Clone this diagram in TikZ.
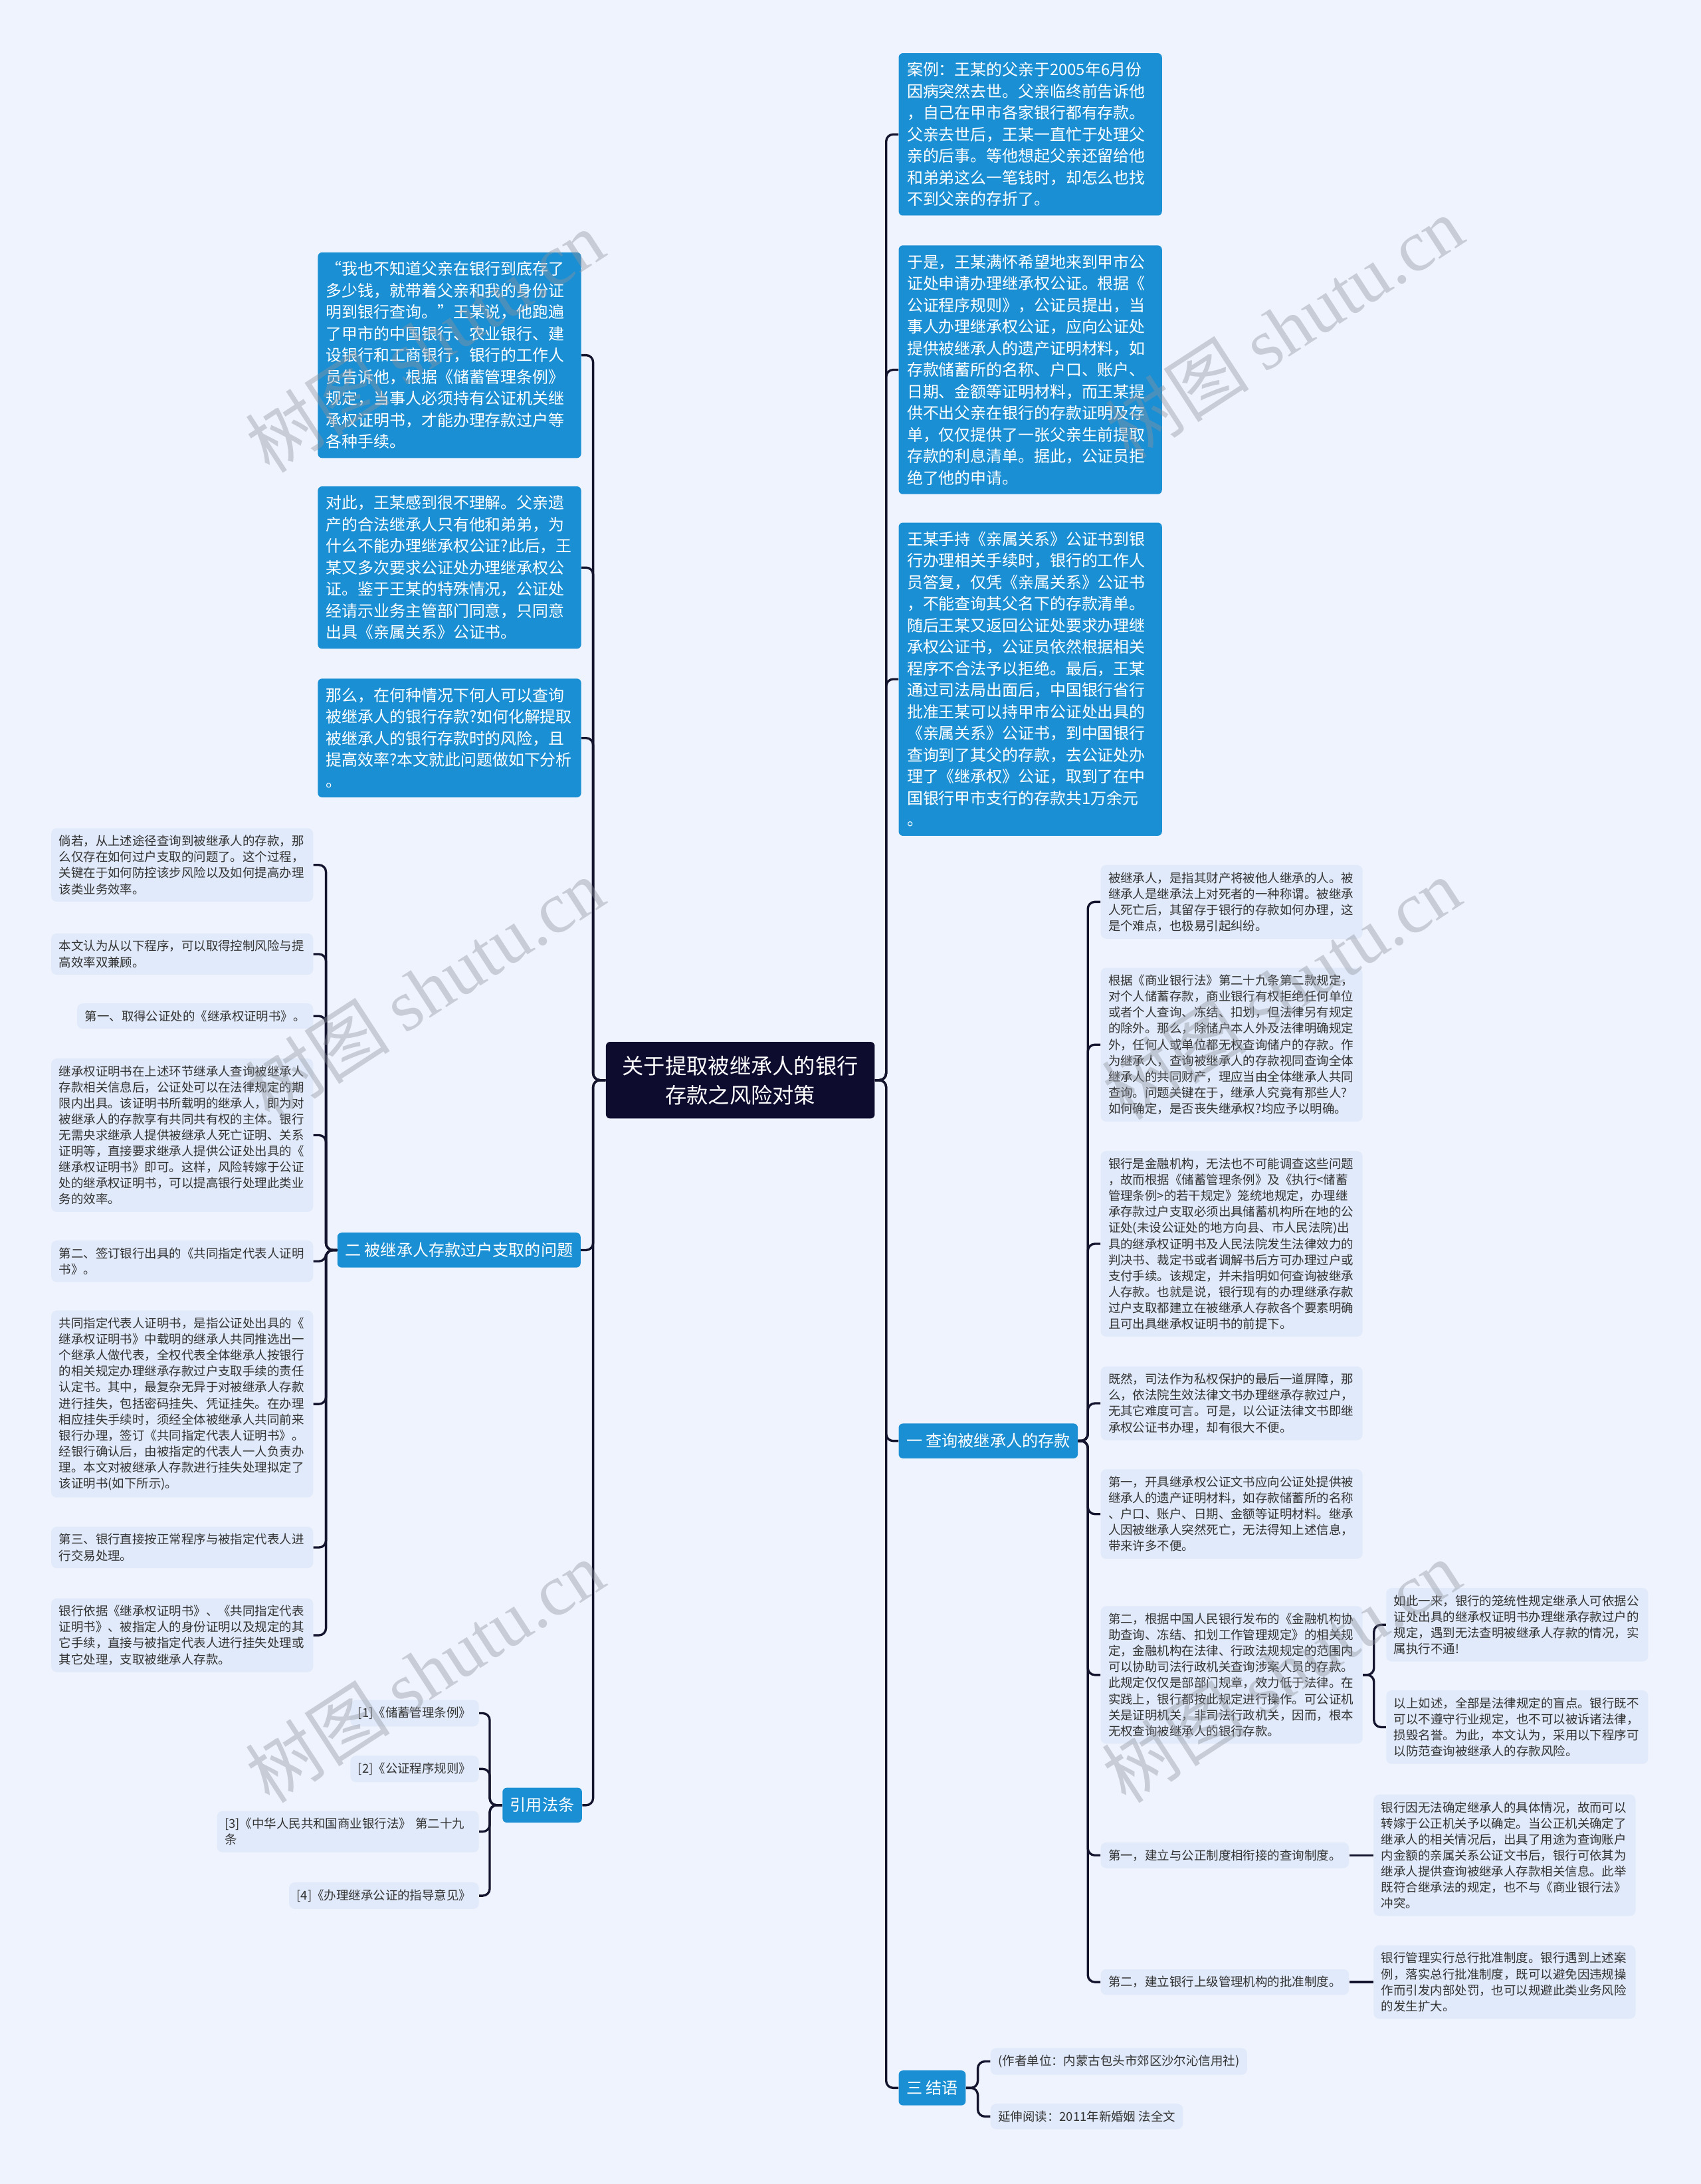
\documentclass[tikz,border=0pt]{standalone}
\usepackage{fontspec}
\setmainfont{Noto Sans CJK SC}
\newfontfamily\wmlatin{Liberation Serif}
\definecolor{bgc}{HTML}{EEF3FD}
\definecolor{bluec}{HTML}{1B8FD3}
\definecolor{darkc}{HTML}{0D0B2E}
\definecolor{lightc}{HTML}{E1EAFA}
\definecolor{textc}{HTML}{333333}
\definecolor{connc}{HTML}{14142E}
\definecolor{wmc}{HTML}{8E929C}
\begin{document}
\begin{tikzpicture}[x=1pt,y=-1pt,
  conn/.style={draw=connc,line width=1.6pt,rounded corners=5pt},
  bluebox/.style={fill=bluec,text=white,rounded corners=3pt,inner xsep=6pt,inner ysep=6.5pt,align=left,text width=177pt,font=\fontsize{11.4}{15.5}\selectfont},
  branch/.style={fill=bluec,text=white,rounded corners=3pt,inner xsep=5.5pt,inner ysep=0pt,minimum height=25pt,font=\fontsize{11.5}{14}\selectfont},
  lightbox/.style={fill=lightc,text=textc,rounded corners=4pt,inner xsep=5.5pt,inner ysep=5pt,align=left,font=\fontsize{8.8}{11.5}\selectfont},
  widebox/.style={text width=177pt},
  centerbox/.style={fill=darkc,text=white,rounded corners=3pt,align=center,minimum width=193pt,minimum height=55pt,font=\fontsize{15.4}{21}\selectfont},
  wm/.style={text=wmc,opacity=0.4,font=\fontsize{52}{52}\selectfont,rotate=33}
]
\useasboundingbox (0,0) rectangle (1221,1568);
\fill[bgc] (0,0) rectangle (1221,1568);

% center
\node[centerbox] (C) at (531.5,775.5) {关于提取被继承人的银行\\存款之风险对策};

% right blue boxes
\node[bluebox,anchor=north west] (R1) at (645,38) {案例：王某的父亲于2005年6月份\\因病突然去世。父亲临终前告诉他\\，自己在甲市各家银行都有存款。\\父亲去世后，王某一直忙于处理父\\亲的后事。等他想起父亲还留给他\\和弟弟这么一笔钱时，却怎么也找\\不到父亲的存折了。};
\node[bluebox,anchor=north west] (R2) at (645,176) {于是，王某满怀希望地来到甲市公\\证处申请办理继承权公证。根据《\\公证程序规则》，公证员提出，当\\事人办理继承权公证，应向公证处\\提供被继承人的遗产证明材料，如\\存款储蓄所的名称、户口、账户、\\日期、金额等证明材料，而王某提\\供不出父亲在银行的存款证明及存\\单，仅仅提供了一张父亲生前提取\\存款的利息清单。据此，公证员拒\\绝了他的申请。};
\node[bluebox,anchor=north west] (R3) at (645,375) {王某手持《亲属关系》公证书到银\\行办理相关手续时，银行的工作人\\员答复，仅凭《亲属关系》公证书\\，不能查询其父名下的存款清单。\\随后王某又返回公证处要求办理继\\承权公证书，公证员依然根据相关\\程序不合法予以拒绝。最后，王某\\通过司法局出面后，中国银行省行\\批准王某可以持甲市公证处出具的\\《亲属关系》公证书，到中国银行\\查询到了其父的存款，去公证处办\\理了《继承权》公证，取到了在中\\国银行甲市支行的存款共1万余元\\。};

% left blue boxes
\node[bluebox,anchor=north west] (L1) at (228,181) {“我也不知道父亲在银行到底存了\\多少钱，就带着父亲和我的身份证\\明到银行查询。”王某说，他跑遍\\了甲市的中国银行、农业银行、建\\设银行和工商银行，银行的工作人\\员告诉他，根据《储蓄管理条例》\\规定，当事人必须持有公证机关继\\承权证明书，才能办理存款过户等\\各种手续。};
\node[bluebox,anchor=north west] (L2) at (228,349) {对此，王某感到很不理解。父亲遗\\产的合法继承人只有他和弟弟，为\\什么不能办理继承权公证?此后，王\\某又多次要求公证处办理继承权公\\证。鉴于王某的特殊情况，公证处\\经请示业务主管部门同意，只同意\\出具《亲属关系》公证书。};
\node[bluebox,anchor=north west] (L3) at (228,487) {那么，在何种情况下何人可以查询\\被继承人的银行存款?如何化解提取\\被继承人的银行存款时的风险，且\\提高效率?本文就此问题做如下分析\\。};

% branch nodes
\node[branch,anchor=east] (B2) at (417,897.5) {二 被继承人存款过户支取的问题};
\node[branch,anchor=east] (B4) at (418,1296) {引用法条};
\node[branch,anchor=west] (B1) at (645,1034.5) {一 查询被继承人的存款};
\node[branch,anchor=west] (B3) at (645,1499) {三 结语};

% left light boxes (branch 二)
\node[lightbox,widebox,anchor=east] (l1) at (225,621) {倘若，从上述途径查询到被继承人的存款，那\\么仅存在如何过户支取的问题了。这个过程，\\关键在于如何防控该步风险以及如何提高办理\\该类业务效率。};
\node[lightbox,widebox,anchor=east] (l2) at (225,685) {本文认为从以下程序，可以取得控制风险与提\\高效率双兼顾。};
\node[lightbox,anchor=east] (l3) at (225,729.5) {第一、取得公证处的《继承权证明书》。};
\node[lightbox,widebox,anchor=east] (l4) at (225,815) {继承权证明书在上述环节继承人查询被继承人\\存款相关信息后，公证处可以在法律规定的期\\限内出具。该证明书所载明的继承人，即为对\\被继承人的存款享有共同共有权的主体。银行\\无需央求继承人提供被继承人死亡证明、关系\\证明等，直接要求继承人提供公证处出具的《\\继承权证明书》即可。这样，风险转嫁于公证\\处的继承权证明书，可以提高银行处理此类业\\务的效率。};
\node[lightbox,widebox,anchor=east] (l5) at (225,905.5) {第二、签订银行出具的《共同指定代表人证明\\书》。};
\node[lightbox,widebox,anchor=east] (l6) at (225,1008) {共同指定代表人证明书，是指公证处出具的《\\继承权证明书》中载明的继承人共同推选出一\\个继承人做代表，全权代表全体继承人按银行\\的相关规定办理继承存款过户支取手续的责任\\认定书。其中，最复杂无异于对被继承人存款\\进行挂失，包括密码挂失、凭证挂失。在办理\\相应挂失手续时，须经全体被继承人共同前来\\银行办理，签订《共同指定代表人证明书》。\\经银行确认后，由被指定的代表人一人负责办\\理。本文对被继承人存款进行挂失处理拟定了\\该证明书(如下所示)。};
\node[lightbox,widebox,anchor=east] (l7) at (225,1111) {第三、银行直接按正常程序与被指定代表人进\\行交易处理。};
\node[lightbox,widebox,anchor=east] (l8) at (225,1174) {银行依据《继承权证明书》、《共同指定代表\\证明书》、被指定人的身份证明以及规定的其\\它手续，直接与被指定代表人进行挂失处理或\\其它处理，支取被继承人存款。};

% references
\node[lightbox,anchor=east] (r1) at (344,1230) {[1]《储蓄管理条例》};
\node[lightbox,anchor=east] (r2) at (344,1270) {[2]《公证程序规则》};
\node[lightbox,widebox,anchor=east] (r3) at (344,1315) {[3]《中华人民共和国商业银行法》 第二十九\\条};
\node[lightbox,anchor=east] (r4) at (344,1361) {[4]《办理继承公证的指导意见》};

% right light boxes (branch 一)
\node[lightbox,widebox,anchor=west] (a) at (790,647.5) {被继承人，是指其财产将被他人继承的人。被\\继承人是继承法上对死者的一种称谓。被继承\\人死亡后，其留存于银行的存款如何办理，这\\是个难点，也极易引起纠纷。};
\node[lightbox,widebox,anchor=west] (b) at (790,750) {根据《商业银行法》第二十九条第二款规定，\\对个人储蓄存款，商业银行有权拒绝任何单位\\或者个人查询、冻结、扣划，但法律另有规定\\的除外。那么，除储户本人外及法律明确规定\\外，任何人或单位都无权查询储户的存款。作\\为继承人，查询被继承人的存款视同查询全体\\继承人的共同财产，理应当由全体继承人共同\\查询。问题关键在于，继承人究竟有那些人?\\如何确定，是否丧失继承权?均应予以明确。};
\node[lightbox,widebox,anchor=west] (c) at (790,893) {银行是金融机构，无法也不可能调查这些问题\\，故而根据《储蓄管理条例》及《执行<储蓄\\管理条例>的若干规定》笼统地规定，办理继\\承存款过户支取必须出具储蓄机构所在地的公\\证处(未设公证处的地方向县、市人民法院)出\\具的继承权证明书及人民法院发生法律效力的\\判决书、裁定书或者调解书后方可办理过户或\\支付手续。该规定，并未指明如何查询被继承\\人存款。也就是说，银行现有的办理继承存款\\过户支取都建立在被继承人存款各个要素明确\\且可出具继承权证明书的前提下。};
\node[lightbox,widebox,anchor=west] (d) at (790,1007.5) {既然，司法作为私权保护的最后一道屏障，那\\么，依法院生效法律文书办理继承存款过户，\\无其它难度可言。可是，以公证法律文书即继\\承权公证书办理，却有很大不便。};
\node[lightbox,widebox,anchor=west] (e) at (790,1087) {第一，开具继承权公证文书应向公证处提供被\\继承人的遗产证明材料，如存款储蓄所的名称\\、户口、账户、日期、金额等证明材料。继承\\人因被继承人突然死亡，无法得知上述信息，\\带来许多不便。};
\node[lightbox,widebox,anchor=west] (f) at (790,1202.5) {第二，根据中国人民银行发布的《金融机构协\\助查询、冻结、扣划工作管理规定》的相关规\\定，金融机构在法律、行政法规规定的范围内\\可以协助司法行政机关查询涉案人员的存款。\\此规定仅仅是部部门规章，效力低于法律。在\\实践上，银行都按此规定进行操作。可公证机\\关是证明机关，非司法行政机关，因而，根本\\无权查询被继承人的银行存款。};
\node[lightbox,anchor=west] (g) at (790,1332) {第一，建立与公正制度相衔接的查询制度。};
\node[lightbox,anchor=west] (h) at (790,1423) {第二，建立银行上级管理机构的批准制度。};

% third level
\node[lightbox,widebox,anchor=west] (f1) at (995,1166.5) {如此一来，银行的笼统性规定继承人可依据公\\证处出具的继承权证明书办理继承存款过户的\\规定，遇到无法查明被继承人存款的情况，实\\属执行不通!};
\node[lightbox,widebox,anchor=west] (f2) at (995,1240) {以上如述，全部是法律规定的盲点。银行既不\\可以不遵守行业规定，也不可以被诉诸法律，\\损毁名誉。为此，本文认为，采用以下程序可\\以防范查询被继承人的存款风险。};
\node[lightbox,widebox,anchor=west] (g1) at (986,1332) {银行因无法确定继承人的具体情况，故而可以\\转嫁于公正机关予以确定。当公正机关确定了\\继承人的相关情况后，出具了用途为查询账户\\内金额的亲属关系公证文书后，银行可依其为\\继承人提供查询被继承人存款相关信息。此举\\既符合继承法的规定，也不与《商业银行法》\\冲突。};
\node[lightbox,widebox,anchor=west] (h1) at (986,1423) {银行管理实行总行批准制度。银行遇到上述案\\例，落实总行批准制度，既可以避免因违规操\\作而引发内部处罚，也可以规避此类业务风险\\的发生扩大。};

% conclusion children
\node[lightbox,anchor=west] (k1) at (711,1480) {(作者单位：内蒙古包头市郊区沙尔沁信用社)};
\node[lightbox,anchor=west] (k2) at (711,1519.5) {延伸阅读：2011年新婚姻 法全文};

% connectors
\foreach \n in {L1,L2,L3,B2,B4} \draw[conn] (C.west) -- ++(-9,0) |- (\n.east);
\foreach \n in {R1,R2,R3,B1,B3} \draw[conn] (C.east) -- ++(8,0) |- (\n.west);
\foreach \n in {a,b,c,d,e,f,g,h} \draw[conn] (B1.east) -- ++(7,0) |- (\n.west);
\foreach \n in {f1,f2} \draw[conn] (f.east) -- ++(8,0) |- (\n.west);
\draw[conn] (g.east) -- (g.east -| g1.west);
\draw[conn] (h.east) -- (h.east -| h1.west);
\foreach \n in {k1,k2} \draw[conn] (B3.east) -- ++(8.5,0) |- (\n.west);
\foreach \n in {l1,l2,l3,l4,l5,l6,l7,l8} \draw[conn] (B2.west) -- ++(-8,0) |- (\n.east);
\foreach \n in {r1,r2,r3,r4} \draw[conn] (B4.west) -- ++(-9,0) |- (\n.east);

% watermarks
\node[wm] (w1) at (305,245) {树图 {\wmlatin shutu.cn}};
\node[wm] (w2) at (922,235) {树图 {\wmlatin shutu.cn}};
\node[wm] (w3) at (305,710) {树图 {\wmlatin shutu.cn}};
\node[wm] (w4) at (920,710) {树图 {\wmlatin shutu.cn}};
\node[wm] (w5) at (305,1200) {树图 {\wmlatin shutu.cn}};
\node[wm] (w6) at (920,1200) {树图 {\wmlatin shutu.cn}};
\end{tikzpicture}
\end{document}
